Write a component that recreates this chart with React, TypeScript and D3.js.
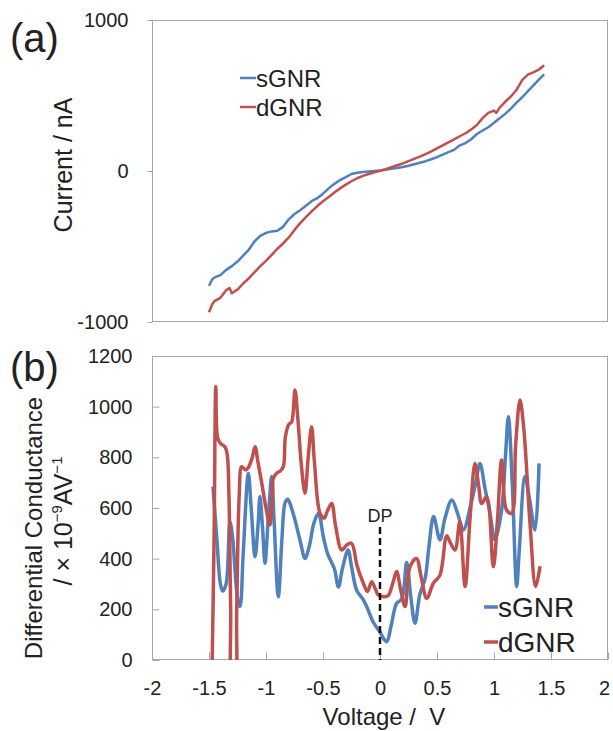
import React, { useEffect, useRef } from "react";
import * as d3 from "d3";

// --- panel (a): I-V curves ---
const ivVoltsS = [-1.5, -1.47, -1.45, -1.4, -1.35, -1.3, -1.25, -1.2, -1.15, -1.1, -1.05, -1.0, -0.95, -0.9, -0.85, -0.8, -0.75, -0.7, -0.65, -0.6, -0.55, -0.5, -0.45, -0.4, -0.35, -0.3, -0.25, -0.2, -0.15, -0.1, -0.05, 0, 0.05, 0.1, 0.15, 0.2, 0.25, 0.3, 0.35, 0.4, 0.45, 0.5, 0.55, 0.6, 0.65, 0.7, 0.75, 0.8, 0.85, 0.9, 0.95, 1.0, 1.05, 1.1, 1.15, 1.2, 1.25, 1.3, 1.35, 1.4, 1.44];
const ivCurrentS = [-760, -715, -705, -690, -655, -630, -600, -560, -520, -465, -430, -410, -400, -395, -370, -320, -285, -260, -230, -200, -180, -150, -115, -85, -60, -40, -20, -12, -6, -3, 0, 3, 8, 14, 20, 27, 35, 45, 55, 65, 78, 92, 108, 125, 140, 170, 185, 210, 245, 268, 290, 320, 350, 380, 415, 455, 490, 530, 570, 610, 640];

const ivVoltsD = [-1.5, -1.47, -1.45, -1.4, -1.35, -1.32, -1.3, -1.25, -1.2, -1.15, -1.1, -1.05, -1.0, -0.95, -0.9, -0.85, -0.8, -0.75, -0.7, -0.65, -0.6, -0.55, -0.5, -0.45, -0.4, -0.35, -0.3, -0.25, -0.2, -0.15, -0.1, -0.05, 0, 0.05, 0.1, 0.15, 0.2, 0.25, 0.3, 0.35, 0.4, 0.45, 0.5, 0.55, 0.6, 0.65, 0.7, 0.75, 0.8, 0.85, 0.9, 0.95, 1.0, 1.02, 1.05, 1.1, 1.15, 1.2, 1.25, 1.3, 1.35, 1.4, 1.44];
const ivCurrentD = [-935, -880, -860, -840, -790, -775, -810, -785, -745, -710, -670, -630, -595, -555, -515, -480, -440, -390, -345, -305, -268, -232, -200, -172, -142, -115, -90, -68, -48, -32, -20, -8, 2, 12, 25, 38, 50, 65, 80, 95, 112, 130, 150, 170, 190, 210, 230, 250, 275, 305, 350, 385, 400, 385, 420, 460, 495, 540, 605, 640, 655, 675, 700];

// --- panel (b): differential conductance ---
const dcVoltsS = [-1.465, -1.43, -1.4, -1.38, -1.35, -1.316, -1.29, -1.27, -1.245, -1.228, -1.2, -1.155, -1.13, -1.096, -1.07, -1.053, -1.03, -1.009, -0.98, -0.95, -0.93, -0.892, -0.86, -0.833, -0.81, -0.79, -0.75, -0.7, -0.658, -0.62, -0.58, -0.54, -0.497, -0.46, -0.4, -0.365, -0.33, -0.28, -0.25, -0.205, -0.15, -0.117, -0.06, 0, 0.04, 0.06, 0.1, 0.146, 0.19, 0.234, 0.27, 0.307, 0.35, 0.395, 0.43, 0.47, 0.526, 0.57, 0.63, 0.68, 0.73, 0.8, 0.84, 0.877, 0.92, 0.965, 1.009, 1.067, 1.1, 1.126, 1.16, 1.199, 1.22, 1.272, 1.31, 1.36, 1.395];
const dcS = [684, 470, 300, 272, 300, 546, 470, 342, 230, 211, 420, 737, 600, 408, 530, 645, 520, 382, 560, 724, 560, 250, 480, 620, 635, 618, 560, 470, 401, 450, 540, 579, 487, 420, 360, 288, 360, 434, 370, 276, 240, 211, 150, 110, 79, 72, 140, 224, 240, 385, 250, 145, 260, 320, 450, 566, 474, 560, 632, 580, 513, 620, 700, 776, 680, 579, 474, 592, 800, 960, 700, 290, 420, 724, 640, 513, 776];

const dcVoltsD = [-1.475, -1.455, -1.44, -1.425, -1.4, -1.36, -1.34, -1.325, -1.31, -1.295, -1.275, -1.257, -1.235, -1.213, -1.18, -1.155, -1.12, -1.096, -1.07, -1.038, -1.0, -0.965, -0.945, -0.936, -0.9, -0.877, -0.848, -0.83, -0.8, -0.775, -0.746, -0.72, -0.69, -0.658, -0.63, -0.6, -0.575, -0.526, -0.49, -0.46, -0.424, -0.39, -0.336, -0.29, -0.25, -0.2, -0.146, -0.11, -0.073, -0.04, -0.015, 0.04, 0.073, 0.11, 0.146, 0.18, 0.22, 0.263, 0.32, 0.36, 0.41, 0.468, 0.526, 0.585, 0.62, 0.658, 0.7, 0.746, 0.79, 0.833, 0.865, 0.892, 0.936, 0.994, 1.03, 1.067, 1.11, 1.155, 1.19, 1.228, 1.26, 1.316, 1.365, 1.404];
const dcD = [-100, 500, 1080, 880, 855, 842, 810, 650, 200, -150, -150, 200, 650, 763, 750, 760, 800, 842, 780, 700, 600, 533, 650, 717, 740, 745, 763, 880, 930, 940, 1066, 950, 770, 658, 800, 921, 780, 579, 560, 590, 618, 530, 434, 455, 461, 370, 303, 270, 309, 280, 257, 250, 255, 300, 349, 280, 211, 368, 401, 330, 243, 303, 335, 490, 460, 434, 546, 290, 560, 776, 690, 618, 645, 368, 550, 789, 592, 579, 850, 1026, 920, 539, 290, 370];

const seriesNames = ["sGNR", "dGNR"];
const seriesColors = ["#4f81bd", "#c0504d"];
const xTicks = [-2, -1.5, -1, -0.5, 0, 0.5, 1, 1.5, 2];
const ivTicks = [-1000, 0, 1000];
const dcTicks = [0, 200, 400, 600, 800, 1000, 1200];

const FONT = "'Liberation Sans', Arial, sans-serif";

export default function App() {
    const svgRef = useRef(null);

    useEffect(() => {
        const svg = d3.select(svgRef.current);
        svg.selectAll("*").remove();

        const x = d3.scaleLinear().domain([-2, 2]).range([152, 608]);
        const yTop = d3.scaleLinear().domain([-1000, 1000]).range([322, 20]);
        const yBot = d3.scaleLinear().domain([0, 1200]).range([660, 356]);

        const frameColor = "#a6a6a6";

        // clip for panel (b)
        svg.append("defs").append("clipPath").attr("id", "clipB")
            .append("rect")
            .attr("x", 152).attr("y", 356).attr("width", 456).attr("height", 304);

        // --- panel (a) ---
        svg.append("rect")
            .attr("x", 152.5).attr("y", 20.5)
            .attr("width", 455).attr("height", 301)
            .attr("fill", "none").attr("stroke", frameColor);

        const axA = svg.append("g")
            .attr("transform", "translate(152.5,0)")
            .call(d3.axisLeft(yTop).tickValues(ivTicks).tickSize(5).tickPadding(19).tickFormat(d => String(d)));
        axA.select(".domain").remove();
        axA.selectAll("line").attr("stroke", frameColor);
        axA.selectAll("text").attr("font-family", FONT).attr("font-size", 20).attr("fill", "#222");

        const lineA = d3.line().x(d => x(d[0])).y(d => yTop(d[1]));
        [[ivVoltsS, ivCurrentS], [ivVoltsD, ivCurrentD]].forEach(([vs, cs], i) => {
            svg.append("path")
                .datum(vs.map((v, j) => [v, cs[j]]))
                .attr("d", lineA)
                .attr("fill", "none")
                .attr("stroke", seriesColors[i])
                .attr("stroke-width", 2.5)
                .attr("stroke-linejoin", "round");
        });

        // legend (a)
        seriesNames.forEach((name, i) => {
            const yy = 78 + i * 29;
            svg.append("line")
                .attr("x1", 240).attr("x2", 256).attr("y1", yy).attr("y2", yy)
                .attr("stroke", seriesColors[i]).attr("stroke-width", 2.5);
            svg.append("text")
                .attr("x", 256).attr("y", yy + 9)
                .attr("font-family", FONT).attr("font-size", 24).attr("fill", "#222")
                .text(name);
        });

        svg.append("text")
            .attr("transform", "translate(72,165) rotate(-90)")
            .attr("text-anchor", "middle")
            .attr("font-family", FONT).attr("font-size", 25).attr("fill", "#222")
            .text("Current / nA");

        svg.append("text")
            .attr("x", 10).attr("y", 52)
            .attr("font-family", FONT).attr("font-size", 40).attr("fill", "#222")
            .text("(a)");

        // --- panel (b) ---
        svg.append("rect")
            .attr("x", 152.5).attr("y", 356.5)
            .attr("width", 455).attr("height", 303)
            .attr("fill", "none").attr("stroke", frameColor);

        const axBy = svg.append("g")
            .attr("transform", "translate(152.5,0)")
            .call(d3.axisLeft(yBot).tickValues(dcTicks).tickSize(-7).tickPadding(20).tickFormat(d => String(d)));
        axBy.select(".domain").remove();
        axBy.selectAll("line").attr("stroke", frameColor);
        axBy.selectAll("text").attr("font-family", FONT).attr("font-size", 20).attr("fill", "#222");

        const axBx = svg.append("g")
            .attr("transform", "translate(0,659.5)")
            .call(d3.axisBottom(x).tickValues(xTicks).tickSize(-7).tickPadding(21).tickFormat(d => String(d)));
        axBx.select(".domain").remove();
        axBx.selectAll("line").attr("stroke", frameColor);
        axBx.selectAll("text").attr("font-family", FONT).attr("font-size", 20).attr("fill", "#222")
            .attr("dx", d => (d === 2 ? -4 : 0));

        const lineB = d3.line().x(d => x(d[0])).y(d => yBot(d[1])).curve(d3.curveCatmullRom.alpha(0.5));
        const gB = svg.append("g").attr("clip-path", "url(#clipB)");
        [[dcVoltsS, dcS], [dcVoltsD, dcD]].forEach(([vs, gs], i) => {
            gB.append("path")
                .datum(vs.map((v, j) => [v, gs[j]]))
                .attr("d", lineB)
                .attr("fill", "none")
                .attr("stroke", seriesColors[i])
                .attr("stroke-width", 3.5)
                .attr("stroke-linejoin", "round");
        });

        // Dirac point marker
        svg.append("line")
            .attr("x1", x(0)).attr("x2", x(0))
            .attr("y1", 527).attr("y2", 660)
            .attr("stroke", "#111").attr("stroke-width", 2.5)
            .attr("stroke-dasharray", "7,4");
        svg.append("text")
            .attr("x", x(0)).attr("y", 522)
            .attr("text-anchor", "middle")
            .attr("font-family", FONT).attr("font-size", 18).attr("fill", "#222")
            .text("DP");

        // legend (b)
        seriesNames.forEach((name, i) => {
            const yy = 607 + i * 35;
            svg.append("line")
                .attr("x1", 484).attr("x2", 498).attr("y1", yy).attr("y2", yy)
                .attr("stroke", seriesColors[i]).attr("stroke-width", 3.5);
            svg.append("text")
                .attr("x", 498).attr("y", yy + 10)
                .attr("font-family", FONT).attr("font-size", 28).attr("fill", "#222")
                .text(name);
        });

        // y label (b)
        svg.append("text")
            .attr("transform", "translate(42,528) rotate(-90)")
            .attr("text-anchor", "middle")
            .attr("font-family", FONT).attr("font-size", 24).attr("fill", "#222")
            .text("Differential Conductance");

        const sub = svg.append("text")
            .attr("transform", "translate(72,521) rotate(-90)")
            .attr("text-anchor", "middle")
            .attr("font-family", FONT).attr("font-size", 25).attr("fill", "#222");
        sub.append("tspan").text("/ × 10");
        sub.append("tspan").attr("font-size", 15).attr("dy", -10).text("−9");
        sub.append("tspan").attr("dy", 10).text("AV");
        sub.append("tspan").attr("font-size", 15).attr("dy", -10).text("−1");

        svg.append("text")
            .attr("x", 384).attr("y", 725)
            .attr("text-anchor", "middle")
            .attr("font-family", FONT).attr("font-size", 24).attr("fill", "#222")
            .style("white-space", "pre")
            .text("Voltage /  V");

        svg.append("text")
            .attr("x", 10).attr("y", 381)
            .attr("font-family", FONT).attr("font-size", 40).attr("fill", "#222")
            .text("(b)");
    }, []);

    return (
        <div style={{ position: "absolute", left: 0, top: 0 }}>
            <svg ref={svgRef} width={613} height={731} style={{ display: "block", background: "#fff" }} />
        </div>
    );
}
